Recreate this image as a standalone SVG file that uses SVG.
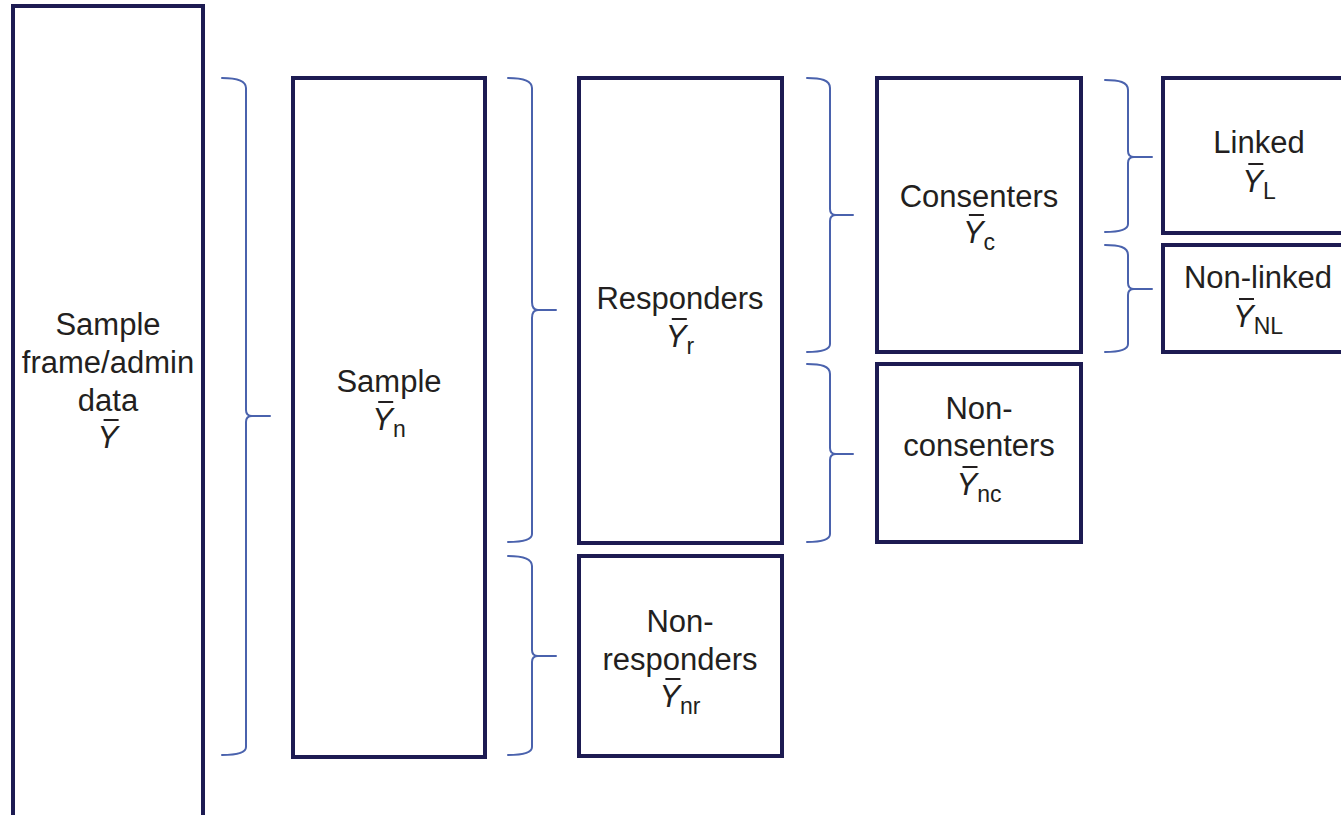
<svg xmlns="http://www.w3.org/2000/svg" width="1341" height="815" viewBox="0 0 1341 815">
  <style>
    .box { fill: #ffffff; stroke: #1d1b52; stroke-width: 4; }
    .brace { fill: none; stroke: #4a62ad; stroke-width: 2; stroke-linecap: round; stroke-linejoin: round; }
    .lbl { font-family: "Liberation Sans", Arial, sans-serif; font-size: 31px; fill: #231f20; text-anchor: middle; }
    .sym { font-family: "Liberation Sans", Arial, sans-serif; font-size: 31px; fill: #231f20; font-style: italic; }
    .sub { font-style: normal; font-size: 23px; }
    .bar { stroke: #231f20; stroke-width: 2; }
  </style>
  <rect width="1341" height="815" fill="#ffffff"/>

  <!-- Curly braces that split each population into its parts -->
  <g id="connectors">
    <path class="brace" d="M222,78 C236,78 246,80 246,88 L246,410 Q246,416 252,416 L270,416 M252,416 Q246,416 246,422 L246,747 C246,753 236,755 222,755"/>
    <path class="brace" d="M508,78 C522,78 532,80 532,88 L532,302 Q532,310 538,310 L556,310 M538,310 Q532,310 532,318 L532,534 C532,540 522,542 508,542"/>
    <path class="brace" d="M508,556 C522,556 532,558 532,566 L532,650 Q532,656 538,656 L556,656 M538,656 Q532,656 532,662 L532,747 C532,753 522,755 508,755"/>
    <path class="brace" d="M807,78 C821,78 830,80 830,88 L830,209 Q830,215 836,215 L853,215 M836,215 Q830,215 830,221 L830,344 C830,350 821,352 807,352"/>
    <path class="brace" d="M807,364 C821,364 830,366 830,374 L830,448 Q830,454 836,454 L853,454 M836,454 Q830,454 830,460 L830,534 C830,540 821,542 807,542"/>
    <path class="brace" d="M1105,80 C1119,80 1128,82 1128,90 L1128,151 Q1128,157 1134,157 L1152,157 M1134,157 Q1128,157 1128,163 L1128,224 C1128,230 1119,232 1105,232"/>
    <path class="brace" d="M1105,245 C1119,245 1128,247 1128,255 L1128,283 Q1128,289 1134,289 L1152,289 M1134,289 Q1128,289 1128,295 L1128,344 C1128,350 1119,352 1105,352"/>
  </g>

  <!-- Sampling frame / administrative data -->
  <g id="frame">
    <rect class="box" x="13" y="6" width="190" height="840"/>
    <text class="lbl" x="108" y="335">Sample</text>
    <text class="lbl" x="108" y="373">frame/admin</text>
    <text class="lbl" x="108" y="411">data</text>
    <text class="sym" x="97.6" y="448">Y</text>
    <line class="bar" x1="103.6" y1="420" x2="118.6" y2="420"/>
  </g>

  <!-- Sample -->
  <g id="sample">
    <rect class="box" x="293" y="78" width="192" height="679"/>
    <text class="lbl" x="389" y="392">Sample</text>
    <text class="sym" x="372.2" y="430">Y<tspan class="sub" dy="7">n</tspan></text>
    <line class="bar" x1="378.2" y1="402" x2="393.2" y2="402"/>
  </g>

  <!-- Responders -->
  <g id="responders">
    <rect class="box" x="579" y="78" width="203" height="465"/>
    <text class="lbl" x="680" y="309">Responders</text>
    <text class="sym" x="665.8" y="347">Y<tspan class="sub" dy="7">r</tspan></text>
    <line class="bar" x1="671.8" y1="319" x2="686.8" y2="319"/>
  </g>

  <!-- Non-responders -->
  <g id="nonresponders">
    <rect class="box" x="579" y="556" width="203" height="200"/>
    <text class="lbl" x="680" y="632">Non-</text>
    <text class="lbl" x="680" y="670">responders</text>
    <text class="sym" x="659.4" y="707">Y<tspan class="sub" dy="7">nr</tspan></text>
    <line class="bar" x1="665.4" y1="679" x2="680.4" y2="679"/>
  </g>

  <!-- Consenters -->
  <g id="consenters">
    <rect class="box" x="877" y="78" width="204" height="274"/>
    <text class="lbl" x="979" y="207">Consenters</text>
    <text class="sym" x="962.9" y="243">Y<tspan class="sub" dy="7">c</tspan></text>
    <line class="bar" x1="968.9" y1="215" x2="983.9" y2="215"/>
  </g>

  <!-- Non-consenters -->
  <g id="nonconsenters">
    <rect class="box" x="877" y="364" width="204" height="178"/>
    <text class="lbl" x="979" y="419">Non-</text>
    <text class="lbl" x="979" y="456">consenters</text>
    <text class="sym" x="956.5" y="495">Y<tspan class="sub" dy="7">nc</tspan></text>
    <line class="bar" x1="962.5" y1="467" x2="977.5" y2="467"/>
  </g>

  <!-- Linked -->
  <g id="linked">
    <rect class="box" x="1163" y="78" width="192" height="155"/>
    <text class="lbl" x="1259" y="153">Linked</text>
    <text class="sym" x="1242.3" y="192">Y<tspan class="sub" dy="7">L</tspan></text>
    <line class="bar" x1="1248.3" y1="164" x2="1263.3" y2="164"/>
  </g>

  <!-- Non-linked -->
  <g id="nonlinked">
    <rect class="box" x="1163" y="245" width="192" height="107"/>
    <text class="lbl" x="1258" y="288">Non-linked</text>
    <text class="sym" x="1233" y="327">Y<tspan class="sub" dy="7">NL</tspan></text>
    <line class="bar" x1="1239" y1="299" x2="1254" y2="299"/>
  </g>
</svg>
